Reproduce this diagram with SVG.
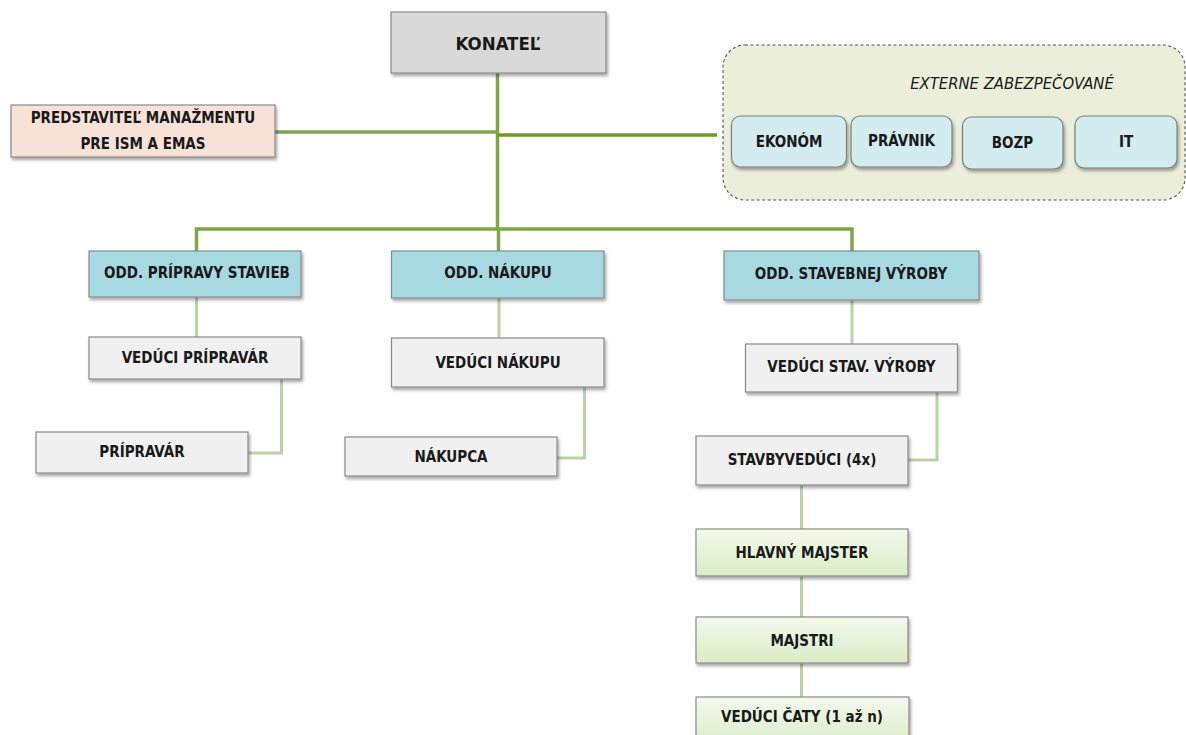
<svg xmlns="http://www.w3.org/2000/svg" width="1186" height="735" viewBox="0 0 1186 735">
<defs>
<filter id="sh" x="-10%" y="-10%" width="125%" height="140%">
<feDropShadow dx="1.5" dy="2.5" stdDeviation="1.5" flood-color="#000" flood-opacity="0.35"/>
</filter>
<linearGradient id="gg" x1="0" y1="0" x2="0" y2="1">
<stop offset="0" stop-color="#f4f9ec"/>
<stop offset="1" stop-color="#d9ecc6"/>
</linearGradient>
<style>
text{font-family:"DejaVu Sans Condensed","DejaVu Sans",sans-serif;font-weight:bold;font-size:15px;fill:#1a1a1a;text-anchor:middle;dominant-baseline:central}
.box{stroke:#8a8a8a;stroke-width:1.2;filter:url(#sh)}
.gray{fill:#d9d9d9}
.pink{fill:#f8e2d8}
.teal{fill:#a7d9e0}
.light{fill:#f0f0f0}
.green{fill:url(#gg)}
.ext{fill:#d3ecef;stroke:#7d7d7d;stroke-width:1.2;filter:url(#sh)}
.c1{stroke:#7ea64a;stroke-width:3.5;fill:none}
.c0{stroke:#6c9a22;stroke-width:3.5;fill:none}
.c2{stroke:#bbd1a6;stroke-width:3;fill:none}
</style>
</defs>
<rect width="1186" height="735" fill="#fff"/>
<g id="connectors">
<path class="c1" d="M497.5 73 V229"/>
<path class="c1" d="M275 132 H497.5"/>
<path class="c0" d="M497.5 135 H717"/>
<path class="c1" d="M196.5 251 V229 H852 V251"/>
<path class="c1" d="M498.5 229 V251"/>
<path class="c2" d="M196.5 297 V337"/>
<path class="c2" d="M281.5 379 V453 H248"/>
<path class="c2" d="M499 298 V338"/>
<path class="c2" d="M584.5 387 V458 H557"/>
<path class="c2" d="M852 300 V344"/>
<path class="c2" d="M937 392 V460 H908"/>
<path class="c2" d="M801.5 485 V529"/>
<path class="c2" d="M801.5 576 V617"/>
<path class="c2" d="M801.5 663 V697"/>
</g>
<g id="konatel"><rect class="box gray" x="391" y="12" width="215" height="61"/><text x="498" y="43" style="font-size:18.5px">KONATEĽ</text></g>
<g id="predstavitel"><rect class="box pink" x="11" y="105" width="264" height="52"/><text x="143" y="118">PREDSTAVITEĽ MANAŽMENTU</text><text x="143" y="144">PRE ISM A EMAS</text></g>
<g id="externe">
<rect x="723" y="45" width="462" height="155" rx="22" fill="#ebefda" stroke="#555" stroke-width="1.1" stroke-dasharray="3,2.5"/>
<text x="1012" y="83" style="font-style:italic;font-weight:normal;font-size:16.5px">EXTERNE ZABEZPEČOVANÉ</text>
</g>
<g id="ekonom"><rect class="ext" x="731.5" y="116" width="115" height="51" rx="9"/><text x="789" y="142">EKONÓM</text></g>
<g id="pravnik"><rect class="ext" x="851" y="116" width="101" height="51" rx="9"/><text x="901.5" y="141">PRÁVNIK</text></g>
<g id="bozp"><rect class="ext" x="962.5" y="117" width="100.5" height="52" rx="9"/><text x="1012.5" y="143">BOZP</text></g>
<g id="it"><rect class="ext" x="1075" y="116" width="102" height="52" rx="9"/><text x="1126" y="142">IT</text></g>
<g id="odd-pripravy"><rect class="box teal" x="89" y="251" width="212" height="46"/><text x="197" y="273">ODD. PRÍPRAVY STAVIEB</text></g>
<g id="odd-nakupu"><rect class="box teal" x="391.5" y="251" width="212.5" height="47"/><text x="498" y="273">ODD. NÁKUPU</text></g>
<g id="odd-stavebnej"><rect class="box teal" x="724" y="251" width="255" height="49"/><text x="851" y="274">ODD. STAVEBNEJ VÝROBY</text></g>
<g id="veduci-pripravar"><rect class="box light" x="89" y="337" width="212" height="42"/><text x="195" y="358">VEDÚCI PRÍPRAVÁR</text></g>
<g id="pripravar"><rect class="box light" x="36" y="432" width="212" height="41"/><text x="142" y="452">PRÍPRAVÁR</text></g>
<g id="veduci-nakupu"><rect class="box light" x="391.5" y="338" width="212.5" height="49"/><text x="498" y="363">VEDÚCI NÁKUPU</text></g>
<g id="nakupca"><rect class="box light" x="345" y="437" width="212" height="39"/><text x="451" y="457">NÁKUPCA</text></g>
<g id="veduci-stav"><rect class="box light" x="745.5" y="344" width="212" height="48"/><text x="851.5" y="367">VEDÚCI STAV. VÝROBY</text></g>
<g id="stavbyveduci"><rect class="box light" x="696" y="436" width="212" height="49"/><text x="802" y="460">STAVBYVEDÚCI (4x)</text></g>
<g id="hlavny-majster"><rect class="box green" x="696" y="529" width="212" height="47"/><text x="802" y="553">HLAVNÝ MAJSTER</text></g>
<g id="majstri"><rect class="box green" x="696" y="617" width="212" height="46"/><text x="802" y="641">MAJSTRI</text></g>
<g id="veduci-caty"><rect class="box green" x="696" y="697" width="213" height="50"/><text x="802" y="717">VEDÚCI ČATY (1 až n)</text></g>
</svg>
